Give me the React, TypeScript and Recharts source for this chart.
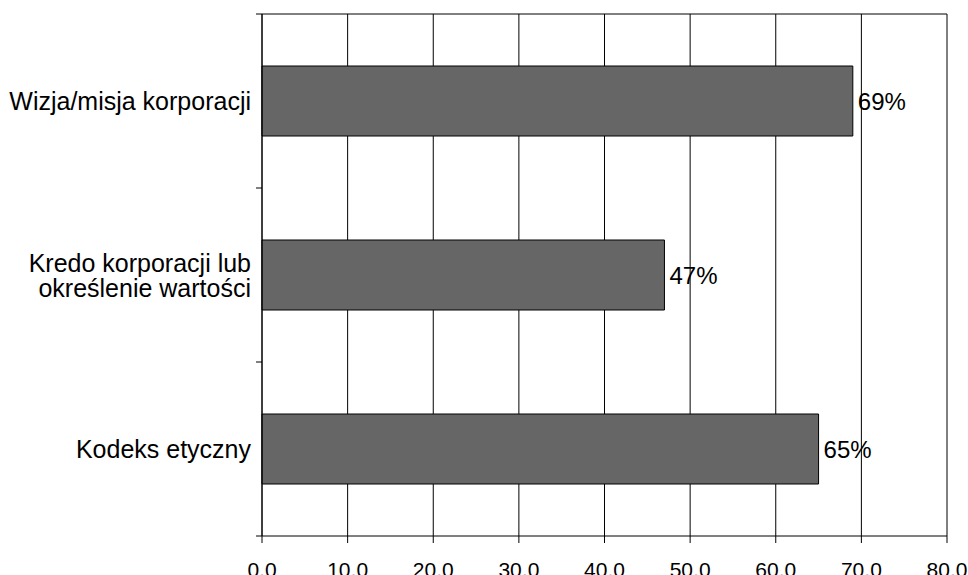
import React from 'react'
import { BarChart, Bar, XAxis, YAxis, CartesianGrid, LabelList } from 'recharts'

const categories = ['Wizja/misja korporacji', 'Kredo korporacji lub\nokreślenie wartości', 'Kodeks etyczny']
const values = [69, 47, 65]
const xTicks = [0, 10, 20, 30, 40, 50, 60, 70, 80]

const data = categories.map((name, i) => ({ name, value: values[i] }))

const FONT = '"Liberation Sans", Arial, Helvetica, sans-serif'
const W = 968
const H = 575
const MARGIN = { top: 14, right: 21, bottom: 0, left: 0 }

function CategoryTick(props: any) {
  const { x, y, payload, index, visibleTicksCount } = props
  const half = payload?.offset || 87
  const lines = String(payload.value).split('\n')
  const lh = 25
  const start = y - ((lines.length - 1) * lh) / 2
  const tx = x - 11
  const isLast = index === (visibleTicksCount ?? categories.length) - 1
  // top border of the plot is drawn with the first band edge
  const x2 = index === 0 ? W - MARGIN.right : x
  return (
    <g>
      <line x1={x - 6} x2={x2} y1={y - half} y2={y - half} stroke="#000" />
      {isLast && <line x1={x - 6} x2={x} y1={y + half} y2={y + half} stroke="#000" />}
      <text x={tx} y={start} textAnchor="end" dominantBaseline="central" fontSize={25} fill="#000" fontFamily={FONT}>
        {lines.map((l, i) => (
          <tspan key={i} x={tx} y={start + i * lh}>{l}</tspan>
        ))}
      </text>
    </g>
  )
}

export default function App() {
  return (
    <div style={{ width: W, height: H, background: '#fff' }}>
      <style>{'body{margin:0}'}</style>
      <BarChart width={W} height={H} data={data} layout="vertical" margin={MARGIN}>
        <CartesianGrid vertical horizontal={false} stroke="#000" strokeWidth={1} />
        <XAxis
          type="number"
          domain={[0, 80]}
          ticks={xTicks}
          interval={0}
          height={39}
          tickSize={7}
          tickMargin={19}
          tickLine={{ stroke: '#000' }}
          axisLine={{ stroke: '#000' }}
          tickFormatter={(v: number) => v.toFixed(1).replace('.', ',')}
          tick={{ fontSize: 21, fill: '#000', fontFamily: FONT }}
        />
        <YAxis
          type="category"
          dataKey="name"
          width={262}
          tickSize={0}
          tickMargin={0}
          axisLine={{ stroke: '#000' }}
          tickLine={false}
          interval={0}
          tick={<CategoryTick />}
        />
        <Bar dataKey="value" fill="#666666" stroke="#000" strokeWidth={1} barSize={70} isAnimationActive={false}>
          <LabelList
            dataKey="value"
            position="right"
            offset={5}
            formatter={(v: any) => `${v}%`}
            style={{ fontSize: 24, fill: '#000', fontFamily: FONT }}
          />
        </Bar>
      </BarChart>
    </div>
  )
}
